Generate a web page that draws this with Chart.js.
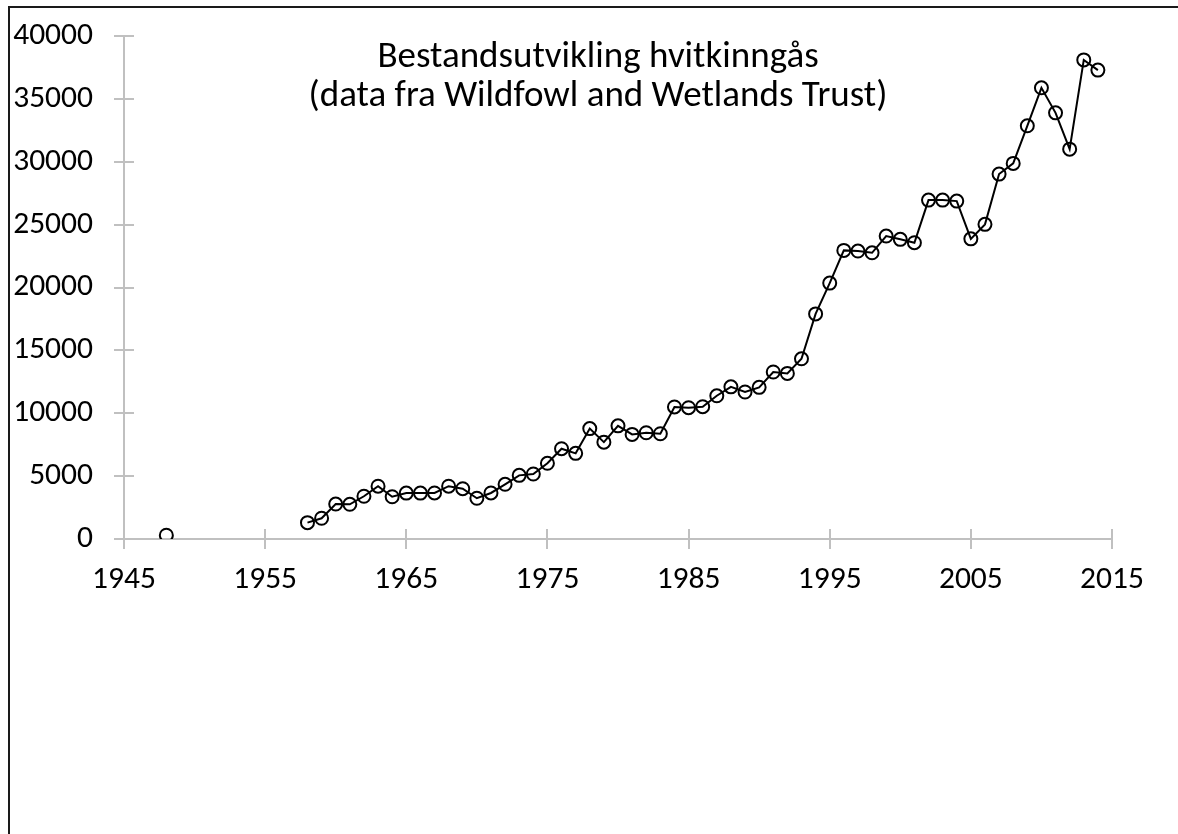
<!DOCTYPE html>
<html>
<head>
<meta charset="utf-8">
<script src="https://cdn.jsdelivr.net/npm/chart.js@4"></script>
<style>
  html, body { margin: 0; padding: 0; background: #fff; overflow: hidden; }
  #frame { position: absolute; left: 8px; top: 6px; width: 3000px; height: 3000px;
           border-left: 2px solid #1a1a1a; border-top: 2px solid #1a1a1a; }
  #chart { position: absolute; left: 0; top: 0; }
  .title { position: absolute; left: 598px; font-family: Carlito, Lato, sans-serif; font-size: 37px;
           line-height: 39px; color: #000; white-space: nowrap; transform: translateX(-50%); }
</style>
</head>
<body>
<div id="frame"></div>
<canvas id="chart" width="1178" height="834"></canvas>
<div class="title" style="top:35px;">Bestandsutvikling hvitkinngås</div>
<div class="title" style="top:74px;">(data fra Wildfowl and Wetlands Trust)</div>
<script>
// Bestand hvitkinngås, lest av figuren (1948 står alene, så kommer serien fra 1958).
const years = [1948,
  1958, 1959, 1960, 1961, 1962, 1963, 1964, 1965, 1966, 1967,
  1968, 1969, 1970, 1971, 1972, 1973, 1974, 1975, 1976, 1977,
  1978, 1979, 1980, 1981, 1982, 1983, 1984, 1985, 1986, 1987,
  1988, 1989, 1990, 1991, 1992, 1993, 1994, 1995, 1996, 1997,
  1998, 1999, 2000, 2001, 2002, 2003, 2004, 2005, 2006, 2007,
  2008, 2009, 2010, 2011, 2012, 2013, 2014];
const counts = [300,
  1300, 1650, 2780, 2760, 3400, 4200, 3360, 3650, 3650, 3660,
  4200, 4000, 3240, 3660, 4350, 5060, 5170, 6020, 7180, 6810,
  8780, 7700, 9000, 8320, 8450, 8370, 10500, 10440, 10520, 11390,
  12100, 11690, 12060, 13280, 13170, 14330, 17900, 20350, 22950, 22900,
  22760, 24090, 23830, 23560, 26950, 26950, 26870, 23870, 25020, 29020,
  29870, 32860, 35880, 33890, 31000, 38100, 37290];
const xTicks = { min: 1945, max: 2015, step: 10 };
const yTicks = { min: 0, max: 40000, step: 5000 };

const axisGrey = '#c0c0c0';
const font = { family: 'Carlito, Lato, sans-serif', size: 31.5 };

// Excel-style tick marks that cross the axis line
const crossTicks = {
  id: 'crossTicks',
  beforeDatasetsDraw(chart) {
    const { ctx, scales: { x, y } } = chart;
    ctx.save();
    ctx.strokeStyle = axisGrey;
    ctx.lineWidth = 2;
    ctx.beginPath();
    x.ticks.forEach((t) => {
      const px = Math.round(x.getPixelForValue(t.value));
      ctx.moveTo(px, y.bottom - 10);
      ctx.lineTo(px, y.bottom + 10);
    });
    y.ticks.forEach((t) => {
      const py = Math.round(y.getPixelForValue(t.value));
      ctx.moveTo(x.left - 10, py);
      ctx.lineTo(x.left + 10, py);
    });
    ctx.stroke();
    ctx.restore();
  },
};

new Chart(document.getElementById('chart'), {
  type: 'line',
  data: {
    datasets: [{
      data: years.map((yr, i) => ({ x: yr, y: counts[i] })),
      borderColor: '#000',
      borderWidth: 2,
      pointRadius: 6.5,
      pointBorderWidth: 2,
      pointBorderColor: '#000',
      pointBackgroundColor: 'transparent',
      tension: 0,
      segment: {
        // no line across the missing years between 1948 and 1958
        borderColor: (c) => (c.p1.parsed.x - c.p0.parsed.x > 1 ? 'transparent' : '#000'),
      },
    }],
  },
  options: {
    responsive: false,
    animation: false,
    layout: { padding: { left: 0, top: 36, right: 66, bottom: 0 } },
    plugins: { legend: { display: false }, tooltip: { enabled: false }, title: { display: false } },
    scales: {
      x: {
        type: 'linear',
        min: xTicks.min, max: xTicks.max,
        grid: { display: false },
        border: { display: true, color: axisGrey, width: 2 },
        ticks: { stepSize: xTicks.step, color: '#000', font, padding: 14, maxRotation: 0,
                 callback: (v) => String(v) },
        afterFit: (s) => { s.height = 295; },
      },
      y: {
        min: yTicks.min, max: yTicks.max,
        grid: { display: false },
        border: { display: true, color: axisGrey, width: 2 },
        ticks: { stepSize: yTicks.step, color: '#000', font, padding: 23,
                 callback: (v) => String(v) },
        // fixed axis width; the layout padding alone sets the plot top
        afterFit: (s) => { s.width = 124; s.paddingTop = 0; s.paddingBottom = 0; },
      },
    },
  },
  plugins: [crossTicks],
});
</script>
</body>
</html>
